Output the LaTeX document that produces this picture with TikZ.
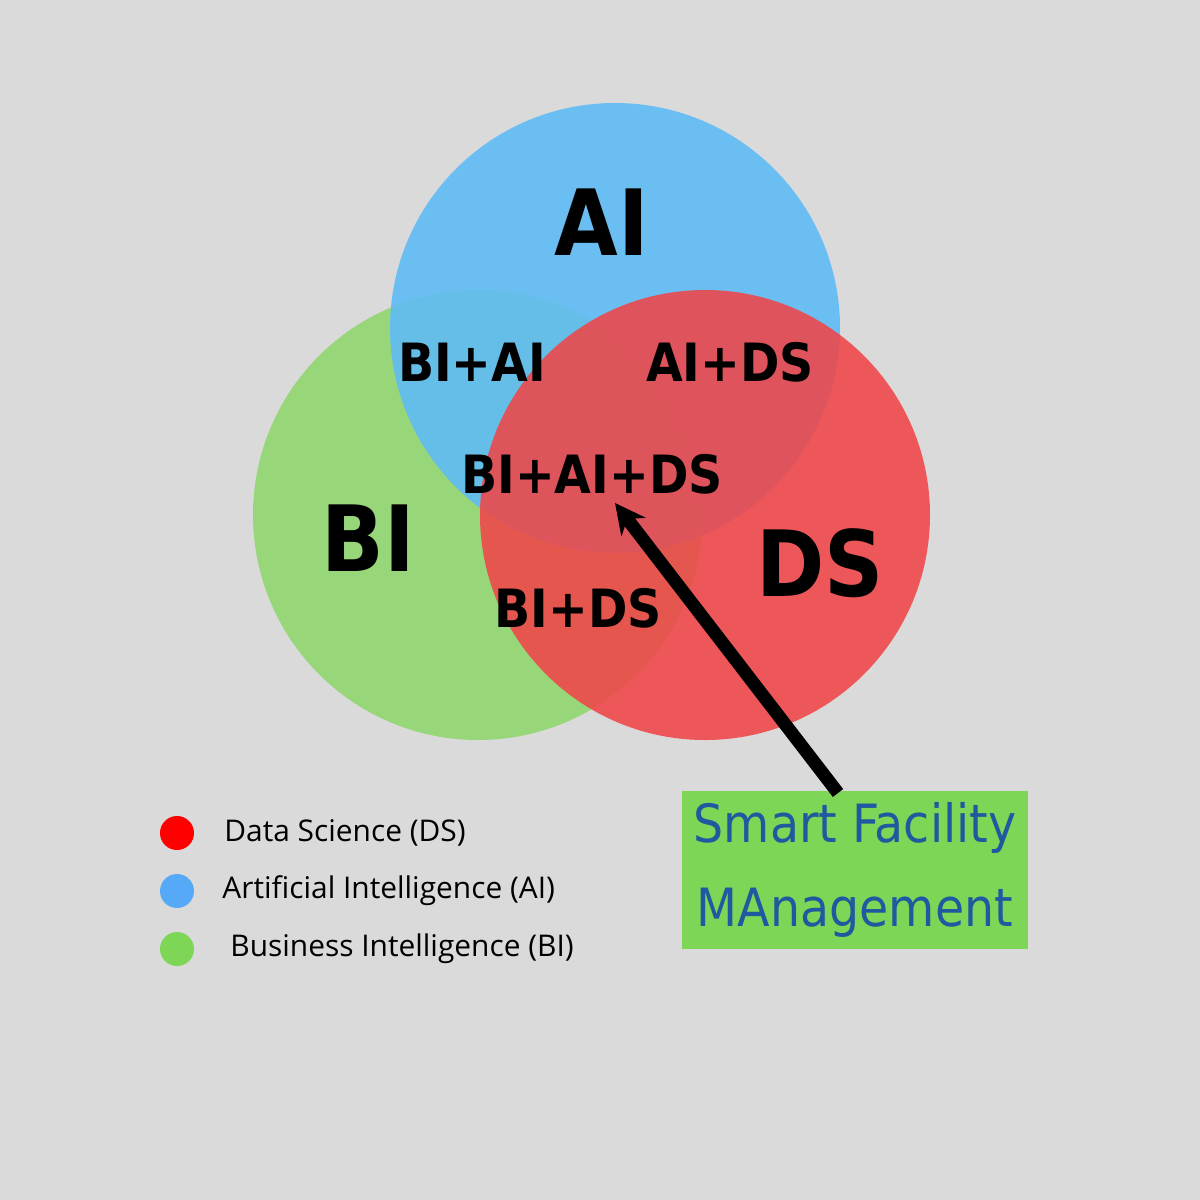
\documentclass[tikz,border=0pt]{standalone}
\usepackage{fontspec}
\usetikzlibrary{arrows.meta}
\setmainfont{Open Sans}
\newfontfamily\condfont{DejaVu Sans Condensed}
\definecolor{bgray}{RGB}{218,218,218}
\definecolor{aiblue}{RGB}{95,188,245}
\definecolor{bigreen}{RGB}{152,214,122}
\definecolor{dsred}{RGB}{240,70,72}
\definecolor{boxgreen}{RGB}{125,214,85}
\definecolor{boxtext}{RGB}{30,90,160}
\tikzset{
  setlabel/.style={font=\condfont\bfseries\fontsize{26}{30}\selectfont},
  partlabel/.style={font=\condfont\bfseries\fontsize{15}{18}\selectfont},
  legenddot/.style={circle, inner sep=0pt, minimum size=0.34cm},
  legendtext/.style={right, font=\fontsize{8.5}{10}\selectfont}
}
\begin{document}
\begin{tikzpicture}[x=0.01cm, y=-0.01cm]

    % background
    \fill[bgray] (0,0) rectangle (1200,1200);
    \useasboundingbox (0,0) rectangle (1200,1200);

    % circles
    \fill[bigreen] (478,515) circle [radius=225];
    \fill[aiblue, opacity=0.9] (615,328) circle [radius=225];
    \fill[dsred, opacity=0.88] (705,515) circle [radius=225];

    % set labels
    \node[setlabel] (ai) at (602,222) {AI};
    \node[setlabel] (bi) at (368,538) {BI};
    \node[setlabel] (ds) at (820,563) {DS};
    \node[partlabel] (biai) at (472,362) {BI+AI};
    \node[partlabel] (aids) at (730,362) {AI+DS};
    \node[partlabel] (bids) at (578,608) {BI+DS};
    \node[partlabel] (all) at (592,474) {BI+AI+DS};

    % smart facility box
    \node[fill=boxgreen, minimum width=3.37cm, minimum height=1.55cm, align=center,
      text=boxtext, font=\condfont\fontsize{15}{24}\selectfont] (sfm) at (855,870)
      {\textsc{Smart Facility}\\MA\textsc{nagement}};
    \coordinate (tip) at (615,503);
    \coordinate (tail) at (838,793);
    \draw[line width=0.13cm, -{Stealth[length=0.3cm, width=0.3cm]}] (tail) -- (tip);

    % legend
    \node[legenddot, fill=red] (dred) at (177,833) {};
    \node[legenddot, fill=aiblue!90!blue] (dblue) at (177,891) {};
    \node[legenddot, fill=boxgreen] (dgreen) at (177,949) {};
    \node[legendtext] at (212,833) {Data Science (DS)};
    \node[legendtext] at (210,891) {Artificial Intelligence (AI)};
    \node[legendtext] at (218,949) {Business Intelligence (BI)};

\end{tikzpicture}
\end{document}
